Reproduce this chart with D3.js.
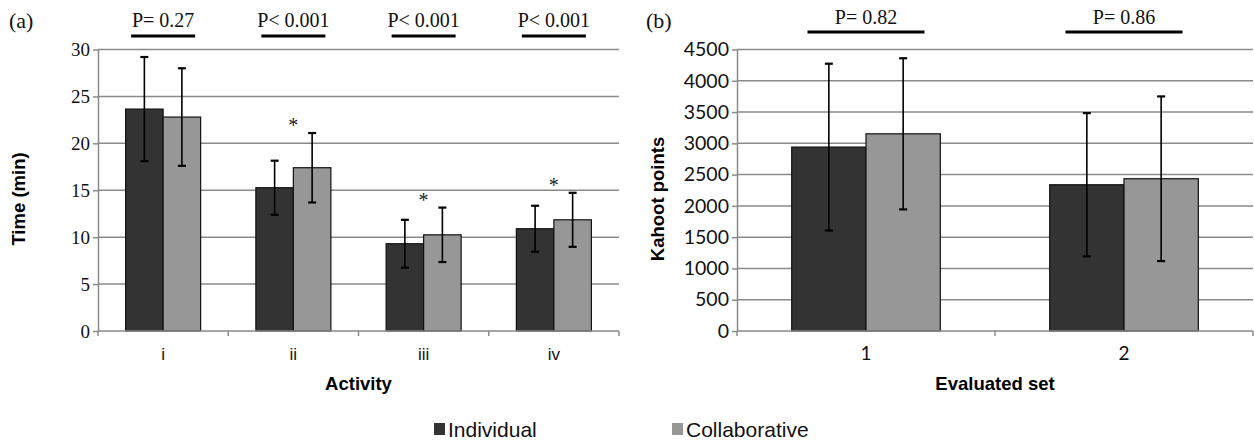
<!DOCTYPE html>
<html>
<head>
<meta charset="utf-8">
<script src="https://cdn.jsdelivr.net/npm/d3@7"></script>
<style>
  body { margin: 0; background: #fff; }
  #display { width: 1254px; height: 442px; }
</style>
</head>
<body>
<div id="display"></div>
<script>
// data
var activities = ["i", "ii", "iii", "iv"];
var timeIndividual = [23.65, 15.27, 9.3, 10.9];
var timeIndividualSd = [5.55, 2.88, 2.55, 2.45];
var timeCollab = [22.8, 17.4, 10.25, 11.85];
var timeCollabSd = [5.2, 3.7, 2.9, 2.88];
var timePValues = ["P= 0.27", "P< 0.001", "P< 0.001", "P< 0.001"];
var timeStars = [false, true, true, true];
var timeTicks = [0, 5, 10, 15, 20, 25, 30];

var evalSets = ["1", "2"];
var kahootIndividual = [2940, 2338];
var kahootIndividualSd = [1333, 1145];
var kahootCollab = [3152, 2434];
var kahootCollabSd = [1208, 1316];
var kahootPValues = ["P= 0.82", "P= 0.86"];
var kahootStars = [false, false];
var kahootTicks = [0, 500, 1000, 1500, 2000, 2500, 3000, 3500, 4000, 4500];

var seriesNames = ["Individual", "Collaborative"];
var colourDark = "#333333";
var colourLight = "#979797";
var gridColour = "#8a8a8a";
var serif = "'Liberation Serif', 'Times New Roman', serif";
var sans = "'Liberation Sans', Arial, sans-serif";
var calibriLike = "Lato, 'Open Sans', sans-serif";

var svg = d3.select("#display").append("svg")
    .attr("width", 1254)
    .attr("height", 442);

var colour = d3.scaleOrdinal().domain(seriesNames).range([colourDark, colourLight]);

function drawPanel(opt) {
  var x0 = d3.scaleBand()
      .domain(opt.cats)
      .range([opt.left, opt.right])
      .paddingInner(0.424)
      .paddingOuter(0.212);
  var x1 = d3.scaleBand()
      .domain(seriesNames)
      .range([0, x0.bandwidth()]);
  var y = d3.scaleLinear()
      .domain([0, opt.ticks[opt.ticks.length - 1]])
      .range([opt.bottom, opt.top]);

  var rows = opt.cats.map(function(c, i) {
    return {
      cat: c,
      vals: [
        {key: seriesNames[0], value: opt.ind[i], sd: opt.indSd[i]},
        {key: seriesNames[1], value: opt.col[i], sd: opt.colSd[i]}
      ],
      p: opt.p[i],
      star: opt.stars[i]
    };
  });

  var g = svg.append("g");

  // gridlines
  g.append("g").selectAll("line")
    .data(opt.ticks.slice(1))
    .enter().append("line")
      .attr("x1", opt.left)
      .attr("x2", opt.right)
      .attr("y1", function(d) { return y(d); })
      .attr("y2", function(d) { return y(d); })
      .attr("stroke", gridColour)
      .attr("stroke-width", 1.5);

  // y axis
  var yAxis = g.append("g")
      .attr("transform", "translate(" + opt.left + ",0)")
      .call(d3.axisLeft(y).tickValues(opt.ticks).tickFormat(d3.format("d"))
        .tickSize(5).tickSizeOuter(0).tickPadding(3));
  yAxis.select(".domain").attr("stroke", gridColour).attr("stroke-width", 1.5);
  yAxis.selectAll(".tick line").attr("stroke", gridColour).attr("stroke-width", 1.5);
  yAxis.selectAll(".tick text")
      .attr("fill", "#111")
      .style("font-family", opt.tickFont)
      .style("font-size", opt.tickSize + "px");

  // bars
  var groups = g.append("g").selectAll("g")
    .data(rows)
    .enter().append("g")
      .attr("transform", function(d) { return "translate(" + x0(d.cat) + ",0)"; });

  groups.selectAll("rect")
    .data(function(d) { return d.vals; })
    .enter().append("rect")
      .attr("x", function(d) { return x1(d.key); })
      .attr("y", function(d) { return y(d.value); })
      .attr("width", x1.bandwidth())
      .attr("height", function(d) { return y(0) - y(d.value); })
      .attr("fill", function(d) { return colour(d.key); })
      .attr("stroke", "#111")
      .attr("stroke-width", 1.2);

  // error bars
  var err = groups.selectAll("g.err")
    .data(function(d) { return d.vals; })
    .enter().append("g")
      .attr("class", "err")
      .attr("stroke", "#000")
      .attr("stroke-width", 1.6);
  var cx = function(d) { return x1(d.key) + x1.bandwidth() / 2; };
  err.append("line")
      .attr("x1", cx).attr("x2", cx)
      .attr("y1", function(d) { return y(d.value + d.sd); })
      .attr("y2", function(d) { return y(d.value - d.sd); });
  err.append("line")
      .attr("x1", function(d) { return cx(d) - 4; })
      .attr("x2", function(d) { return cx(d) + 4; })
      .attr("y1", function(d) { return y(d.value + d.sd); })
      .attr("y2", function(d) { return y(d.value + d.sd); })
      .attr("stroke-width", 2.2);
  err.append("line")
      .attr("x1", function(d) { return cx(d) - 4; })
      .attr("x2", function(d) { return cx(d) + 4; })
      .attr("y1", function(d) { return y(d.value - d.sd); })
      .attr("y2", function(d) { return y(d.value - d.sd); })
      .attr("stroke-width", 2.2);

  // asterisks above collaborative error bar
  groups.filter(function(d) { return d.star; })
    .append("text")
      .attr("x", x0.bandwidth() / 2)
      .attr("y", function(d) { return y(d.vals[1].value + d.vals[1].sd) - 1; })
      .attr("text-anchor", "middle")
      .style("font-family", serif)
      .style("font-size", "20px")
      .attr("fill", "#222")
      .text("*");

  // x axis line and boundary ticks
  g.append("line")
      .attr("x1", opt.left).attr("x2", opt.right)
      .attr("y1", y(0)).attr("y2", y(0))
      .attr("stroke", gridColour).attr("stroke-width", 1.5);
  var bounds = d3.range(opt.cats.length + 1).map(function(i) { return opt.left + i * x0.step(); });
  g.append("g").selectAll("line")
    .data(bounds)
    .enter().append("line")
      .attr("x1", function(d) { return d; }).attr("x2", function(d) { return d; })
      .attr("y1", y(0)).attr("y2", y(0) + 5)
      .attr("stroke", gridColour).attr("stroke-width", 1.5);

  // category labels
  g.append("g").selectAll("text")
    .data(opt.cats)
    .enter().append("text")
      .attr("x", function(d) { return x0(d) + x0.bandwidth() / 2; })
      .attr("y", 360)
      .attr("text-anchor", "middle")
      .style("font-family", opt.catFont)
      .style("font-size", opt.catSize + "px")
      .attr("fill", "#111")
      .text(function(d) { return d; });

  // p value brackets
  var pg = g.append("g").selectAll("g")
    .data(rows)
    .enter().append("g")
      .attr("transform", function(d) { return "translate(" + (x0(d.cat) + x0.bandwidth() / 2) + ",0)"; });
  pg.append("line")
      .attr("x1", -opt.pWidth / 2).attr("x2", opt.pWidth / 2)
      .attr("y1", opt.pLineY).attr("y2", opt.pLineY)
      .attr("stroke", "#000").attr("stroke-width", 3.2);
  pg.append("text")
      .attr("y", opt.pTextY)
      .attr("text-anchor", "middle")
      .style("font-family", serif)
      .style("font-size", "20px")
      .attr("fill", "#111")
      .text(function(d) { return d.p; });

  // axis titles
  g.append("text")
      .attr("transform", "translate(" + opt.yTitleX + "," + 199 + ") rotate(-90)")
      .attr("text-anchor", "middle")
      .style("font-family", sans)
      .style("font-size", "18.5px")
      .style("font-weight", "bold")
      .attr("fill", "#000")
      .text(opt.yTitle);
  g.append("text")
      .attr("x", (opt.left + opt.right) / 2)
      .attr("y", 390)
      .attr("text-anchor", "middle")
      .style("font-family", sans)
      .style("font-size", "18.5px")
      .style("font-weight", "bold")
      .attr("fill", "#000")
      .text(opt.xTitle);

  // panel tag
  g.append("text")
      .attr("x", opt.tagX)
      .attr("y", 28)
      .style("font-family", serif)
      .style("font-size", "22px")
      .attr("fill", "#111")
      .text(opt.tag);
}

drawPanel({
  cats: activities, ind: timeIndividual, indSd: timeIndividualSd,
  col: timeCollab, colSd: timeCollabSd, p: timePValues, stars: timeStars,
  ticks: timeTicks, left: 98, right: 619, top: 49.5, bottom: 331,
  tickFont: serif, tickSize: 19, catFont: sans, catSize: 17,
  pWidth: 64, pLineY: 36, pTextY: 27,
  yTitle: "Time (min)", yTitleX: 25, xTitle: "Activity", tag: "(a)", tagX: 9
});

drawPanel({
  cats: evalSets, ind: kahootIndividual, indSd: kahootIndividualSd,
  col: kahootCollab, colSd: kahootCollabSd, p: kahootPValues, stars: kahootStars,
  ticks: kahootTicks, left: 737, right: 1253, top: 49.5, bottom: 331,
  tickFont: calibriLike, tickSize: 19.5, catFont: calibriLike, catSize: 19,
  pWidth: 117, pLineY: 32, pTextY: 24,
  yTitle: "Kahoot points", yTitleX: 664, xTitle: "Evaluated set", tag: "(b)", tagX: 646
});

// legend
var legend = svg.append("g").selectAll("g")
  .data(seriesNames)
  .enter().append("g")
    .attr("transform", function(d, i) { return "translate(" + (i === 0 ? 434 : 672) + ",0)"; });
legend.append("rect")
    .attr("y", 423)
    .attr("width", 11)
    .attr("height", 12)
    .attr("fill", function(d) { return colour(d); });
legend.append("text")
    .attr("x", 14)
    .attr("y", 436.5)
    .style("font-family", sans)
    .style("font-size", "21px")
    .attr("fill", "#111")
    .text(function(d) { return d; });
</script>
</body>
</html>
